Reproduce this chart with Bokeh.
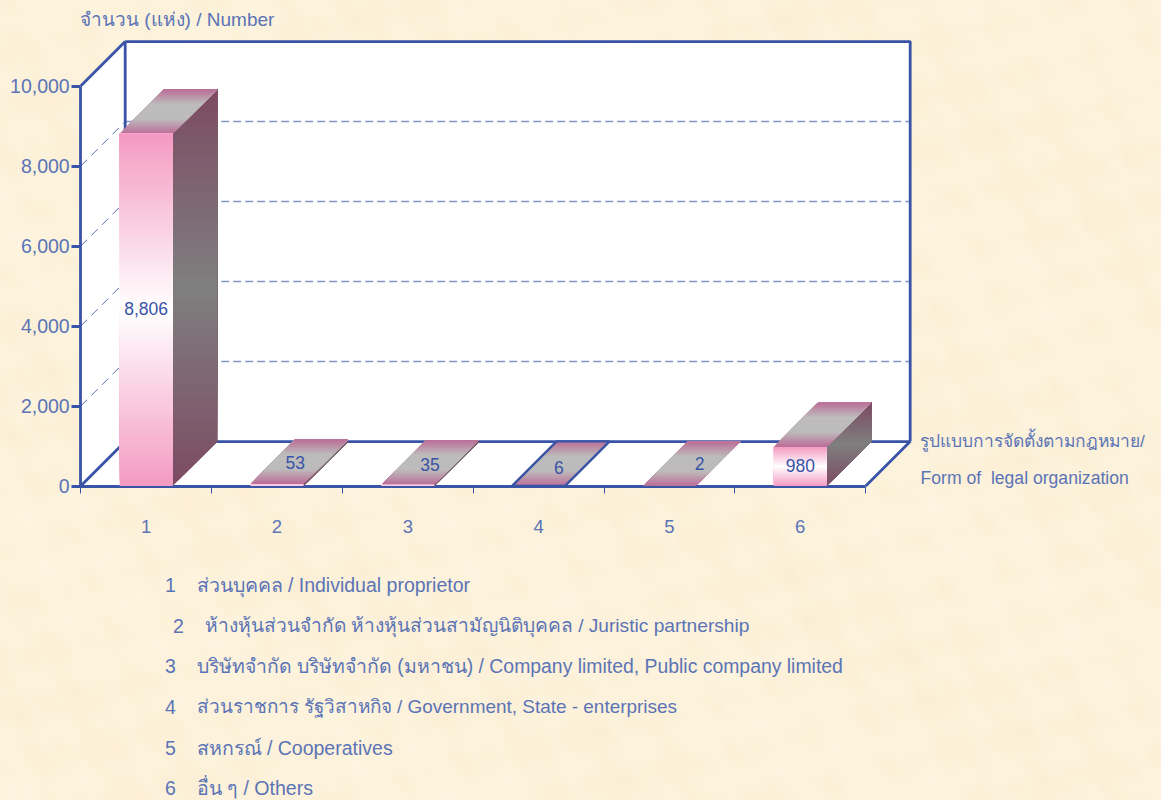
import numpy as np
from bokeh.plotting import figure
from bokeh.models import Range1d, LinearAxis, FixedTicker, NumeralTickFormatter, Label
from bokeh.core.properties import value
from bokeh.embed import file_html
from bokeh.resources import INLINE

# ---- data ----
categories = [1, 2, 3, 4, 5, 6]
values = [8806, 53, 35, 6, 2, 980]
value_labels = ["8,806", "53", "35", "6", "2", "980"]
y_ticks = [0, 2000, 4000, 6000, 8000, 10000]
y_title = "จำนวน (แห่ง) / Number"
x_title_lines = ["รูปแบบการจัดตั้งตามกฎหมาย/", "Form of\u00a0 legal organization"]
legend_numbers = ["1", "2", "3", "4", "5", "6"]
legend_texts = [
    "ส่วนบุคคล / Individual proprietor",
    "ห้างหุ้นส่วนจำกัด ห้างหุ้นส่วนสามัญนิติบุคคล / Juristic partnership",
    "บริษัทจำกัด บริษัทจำกัด (มหาชน) / Company limited, Public company limited",
    "ส่วนราชการ รัฐวิสาหกิจ / Government, State - enterprises",
    "สหกรณ์ / Cooperatives",
    "อื่น ๆ / Others",
]

# ---- layout and style ----
W, H = 1161, 800
PX_X = 130.83      # pixels per category
PX_Y = 0.04        # pixels per unit
X0, Y0 = 80.2, 485.6   # pixel of the axes' corner
FONT = "Liberation Sans"
BLUE = "#3953A6"
TXT = "#5B74B6"
DASH = "#8497C4"
BG = "#FDF2DB"
FRAME_W = 2.8

dx_depth = 44.5 / PX_X      # depth in x data units
dy_depth = 44.5 / PX_Y      # depth in y data units
bar_w = 53 / PX_X
x_lo, x_hi = 0.5, 6.5
y_top = y_ticks[-1]

x_start, x_end = x_lo - X0 / PX_X, x_lo + (W - X0) / PX_X
y_start, y_end = -(H - Y0) / PX_Y, Y0 / PX_Y
p = figure(width=W, height=H, output_backend="svg", toolbar_location=None,
           x_range=Range1d(x_start, x_end), y_range=Range1d(y_start, y_end),
           x_axis_type=None, y_axis_type=None, min_border=0,
           background_fill_color=BG, border_fill_color=BG, outline_line_color=None)
p.grid.visible = False

# faint mottled paper behind everything (a decorative texture, not data)
ty, tx = np.mgrid[0:100, 0:145]
mottle = (np.sin(tx * 0.71 + ty * 0.37) + np.sin(tx * 0.23 - ty * 0.91 + 1.3)
          + np.sin(tx * 1.37 + ty * 1.11 + 0.4) * np.sin(ty * 0.53 - tx * 0.29)
          + np.sin(tx * 0.11 + ty * 0.17 + 2.1))
base = np.array([253.0, 242.0, 219.0])
rgba = np.zeros(tx.shape, dtype=np.uint32)
view = rgba.view(np.uint8).reshape(tx.shape + (4,))
view[..., 0] = np.clip(base[0] + mottle * 0.3, 0, 255)
view[..., 1] = np.clip(base[1] + mottle * 0.9, 0, 255)
view[..., 2] = np.clip(base[2] + mottle * 1.4, 0, 255)
view[..., 3] = 255
p.image_rgba(image=[rgba], x=x_start, y=y_start, dw=x_end - x_start, dh=y_end - y_start,
             level="image")


def hex_rgb(c):
    return tuple(int(c[i:i + 2], 16) for i in (1, 3, 5))


def mix(stops, t):
    n = len(stops) - 1
    i = min(int(t * n), n - 1)
    f = t * n - i
    a, b = hex_rgb(stops[i]), hex_rgb(stops[i + 1])
    return "#%02x%02x%02x" % tuple(round(a[k] + (b[k] - a[k]) * f) for k in range(3))


# walls and floor
dx, dy = dx_depth, dy_depth
p.patch([x_lo, x_lo + dx, x_lo + dx, x_lo], [0, dy, y_top + dy, y_top],
        fill_color="white", line_color=None, level="image")
p.patch([x_lo + dx, x_hi + dx, x_hi + dx, x_lo + dx], [dy, dy, y_top + dy, y_top + dy],
        fill_color="white", line_color=None, level="image")
p.patch([x_lo, x_hi, x_hi + dx, x_lo + dx], [0, 0, dy, dy],
        fill_color="white", line_color=None, level="image")

# dashed grid on the walls
for t in y_ticks[1:-1]:
    p.line([x_lo + dx, x_hi + dx], [t + dy, t + dy], line_color=DASH, line_width=1.5,
           line_dash="8 4", level="image")
    p.line([x_lo, x_lo + dx], [t, t + dy], line_color="#5A6FB5", line_width=1,
           line_dash="9 6", level="image")

# frame lines
p.line([x_lo, x_lo + dx], [y_top, y_top + dy], line_color=BLUE, line_width=FRAME_W, level="image")
p.line([x_lo + dx, x_hi + dx, x_hi + dx], [y_top + dy, y_top + dy, dy],
       line_color=BLUE, line_width=FRAME_W, level="image")
p.line([x_lo + dx, x_lo + dx], [y_top + dy, dy], line_color=BLUE, line_width=FRAME_W, level="image")
p.line([x_lo, x_lo + dx, x_hi + dx, x_hi], [0, dy, dy, 0], line_color=BLUE, line_width=FRAME_W,
       level="image")

# axes
yax = LinearAxis(fixed_location=x_lo, bounds=(0, y_top), ticker=FixedTicker(ticks=y_ticks),
                 formatter=NumeralTickFormatter(format="0,0"), level="underlay")
yax.axis_line_color = BLUE
yax.axis_line_width = FRAME_W
yax.major_tick_line_color = BLUE
yax.major_tick_line_width = FRAME_W
yax.major_tick_out = 9
yax.major_tick_in = 0
yax.minor_tick_line_color = None
yax.major_label_text_color = TXT
yax.major_label_text_font = FONT
yax.major_label_text_font_size = "19.5px"
yax.major_label_standoff = 2
p.add_layout(yax, "left")

xax = LinearAxis(fixed_location=0, bounds=(x_lo, x_hi), level="underlay",
                 ticker=FixedTicker(ticks=categories,
                                    minor_ticks=[c - 0.5 for c in categories] + [x_hi]))
xax.axis_line_color = BLUE
xax.axis_line_width = FRAME_W
xax.major_tick_line_color = None
xax.minor_tick_line_color = BLUE
xax.minor_tick_line_width = 1
xax.minor_tick_out = 7
xax.minor_tick_in = 0
xax.major_label_text_color = TXT
xax.major_label_text_font = FONT
xax.major_label_text_font_size = "18.5px"
xax.major_label_standoff = 27
p.add_layout(xax, "below")

# 3D bars, built from the values
FRONT = ["#F49AC3", "#FFFFFF", "#F49AC3"]
TOP = ["#BB6D97", "#BDBBBB", "#BDBBBB", "#BB6D97"]
SIDE = ["#7D4A63", "#7F7F7F", "#7D4A63"]
N = 70

for c, v in zip(categories, values):
    xl, xr = c - bar_w / 2, c + bar_w / 2
    top_y = v + dy
    # side face: bands painted bottom-up, each one reaching to the top so no seams show
    xs, ys, cols = [], [], []
    for i in range(N):
        a = top_y * i / N
        la = xr if a <= v else xr + dx * (a - v) / dy
        ra = xr + dx if a >= dy else xr + dx * a / dy
        px, py = [la, ra], [a, a]
        if a < dy:
            px.append(xr + dx)
            py.append(dy)
        px.append(xr + dx)
        py.append(top_y)
        if a < v:
            px.append(xr)
            py.append(v)
        xs.append(px)
        ys.append(py)
        cols.append(mix(SIDE, (i + 0.5) / N))
    p.patches(xs, ys, fill_color=cols, line_color=None)
    # top face
    xs, ys, cols = [], [], []
    for i in range(40):
        f = i / 40
        a = v + dy * f
        xs.append([xl + dx * f, xr + dx * f, xr + dx, xl + dx])
        ys.append([a, a, top_y, top_y])
        cols.append(mix(TOP, (i + 0.5) / 40))
    p.patches(xs, ys, fill_color=cols, line_color=None)
    # front face
    n = max(2, min(N, int(v * PX_Y)))
    bottoms = [v * i / n for i in range(n)]
    cols = [mix(FRONT, (i + 0.5) / n) for i in range(n)]
    p.quad(left=xl, right=xr, bottom=bottoms, top=v, fill_color=cols, line_color=None)

# the bar of category 4 keeps a blue outline round its flat top in the reference
c4, v4 = categories[3], values[3]
p.patch([c4 - bar_w / 2, c4 + bar_w / 2, c4 + bar_w / 2 + dx, c4 - bar_w / 2 + dx, c4 - bar_w / 2],
        [v4, v4, v4 + dy, v4 + dy, v4], fill_color=None, line_color=BLUE, line_width=2.4)

# value labels: tall bars on the front face, flat ones on the top face
label_nudge_px = {"2": (8, 0), "35": (0, -2), "6": (-2, -4), "53": (-4, -1)}
for c, v, s in zip(categories, values, value_labels):
    if v * PX_Y > 15:
        lx, ly = c, v / 2 + 1.5 / PX_Y
    else:
        nx, ny = label_nudge_px.get(s, (0, 0))
        lx = c + dx / 2 + nx / PX_X
        ly = v + dy / 2 + ny / PX_Y
    p.text([lx], [ly], text=[s], text_color=BLUE, text_font=value(FONT), text_font_size="17.5px",
           text_align="center", text_baseline="middle")


# free texts, placed in screen pixels measured from the top of the window
def put(x, sy, s, size="19.5px"):
    p.add_layout(Label(x=x, y=H - sy, x_units="screen", y_units="screen", text=s,
                       text_color=TXT, text_font=FONT, text_font_size=size,
                       text_baseline="middle"))


put(79.5, 19, y_title, "19px")
put(919.5, 440, x_title_lines[0], "17.4px")
put(920, 477, x_title_lines[1], "17.6px")
rows = [584, 625, 665, 706, 747, 787]
row_sizes = ["19.5px", "19.15px", "19.4px", "18.95px", "19.5px", "19.6px"]
for i, (n, s, sy, fs) in enumerate(zip(legend_numbers, legend_texts, rows, row_sizes)):
    off = 8 if i == 1 else 0
    put(164.5 + off, sy, n)
    put(196 + off, sy, s, fs)

html = file_html(p, INLINE).replace(
    "</head>", f"<style>html,body{{margin:0;padding:0;overflow:hidden;background:{BG}}}</style></head>")
open("out.html", "w").write(html)
